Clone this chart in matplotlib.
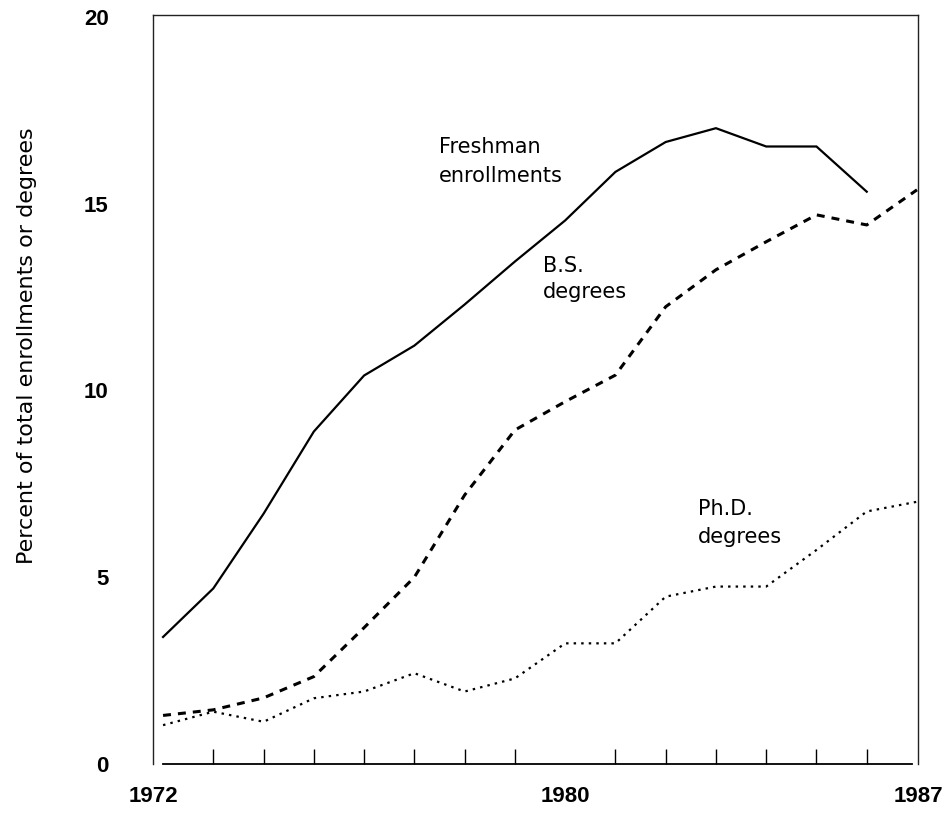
import matplotlib
matplotlib.use("Agg")
import matplotlib.pyplot as plt

years = list(range(1972, 1988))
freshman_years = list(range(1972, 1987))
freshman = [3.4, 4.7, 6.7, 8.9, 10.4, 11.2, 12.3, 13.45, 14.55, 15.85, 16.65, 17.02, 16.53, 16.53, 15.32]
bs_degrees = [1.3, 1.45, 1.77, 2.34, 3.65, 5.0, 7.2, 8.94, 9.7, 10.41, 12.24, 13.23, 13.98, 14.7, 14.43, 15.37]
phd_degrees = [1.04, 1.4, 1.13, 1.76, 1.94, 2.43, 1.94, 2.29, 3.23, 3.23, 4.48, 4.75, 4.75, 5.73, 6.76, 7.02]

minor_ticks = list(range(1973, 1987))
x_tick_labels = ["1972", "1980", "1987"]
y_ticks = [0, 5, 10, 15, 20]
y_label = "Percent of total enrollments or degrees"

W, H = 949, 813
fig = plt.figure(figsize=(W / 100, H / 100), dpi=100)
ax = fig.add_axes([153 / W, 1 - 764 / H, (918 - 153) / W, (764 - 15) / H])

ax.plot(freshman_years, freshman, color="black", lw=1.6, solid_joinstyle="miter")
ax.plot(years, bs_degrees, color="black", lw=2.2, linestyle=(0, (2.6, 2.3)))
ax.plot(years, phd_degrees, color="black", lw=1.6, linestyle=(0, (1.1, 2.3)))

ax.set_xlim(1971.8, 1987.02)
ax.set_ylim(0, 20.05)

for s in ["left", "right", "top"]:
    ax.spines[s].set_linewidth(1.0)
    ax.spines[s].set_color("#222222")
ax.spines["bottom"].set_bounds(1972, 1986.9)
ax.spines["bottom"].set_linewidth(1.3)

ax.set_xticks([1971.8, 1980, 1987.02])
ax.set_xticklabels(x_tick_labels, fontsize=16, fontweight="bold", family="Liberation Sans")
ax.set_xticks(minor_ticks, minor=True)
ax.tick_params(axis="x", which="major", length=0, pad=16)
ax.tick_params(axis="x", which="minor", direction="in", length=11, width=1.0)

ax.set_yticks(y_ticks)
ax.set_yticklabels([str(v) for v in y_ticks], fontsize=16, fontweight="bold",
                   family="Liberation Sans")
ax.tick_params(axis="y", length=0, pad=32)

fig.text(27 / W, 1 - 346 / H, y_label, rotation=90, fontsize=16, family="DejaVu Sans",
         ha="center", va="center")

def px2data(px, py):
    return 1972 + (px - 163) / 50.27, (764 - py) / 37.35

txt_kw = dict(fontsize=15, family="DejaVu Sans", color="black", ha="left", va="baseline")
labels = [
    ("Freshman", 439, 153), ("enrollments", 439, 182),
    ("B.S.", 543, 272), ("degrees", 543, 298),
    ("Ph.D.", 698, 515), ("degrees", 698, 543),
]
for s, px, py in labels:
    x, y = px2data(px, py)
    ax.text(x, y, s, **txt_kw)

fig.savefig("out.png", dpi=100)
